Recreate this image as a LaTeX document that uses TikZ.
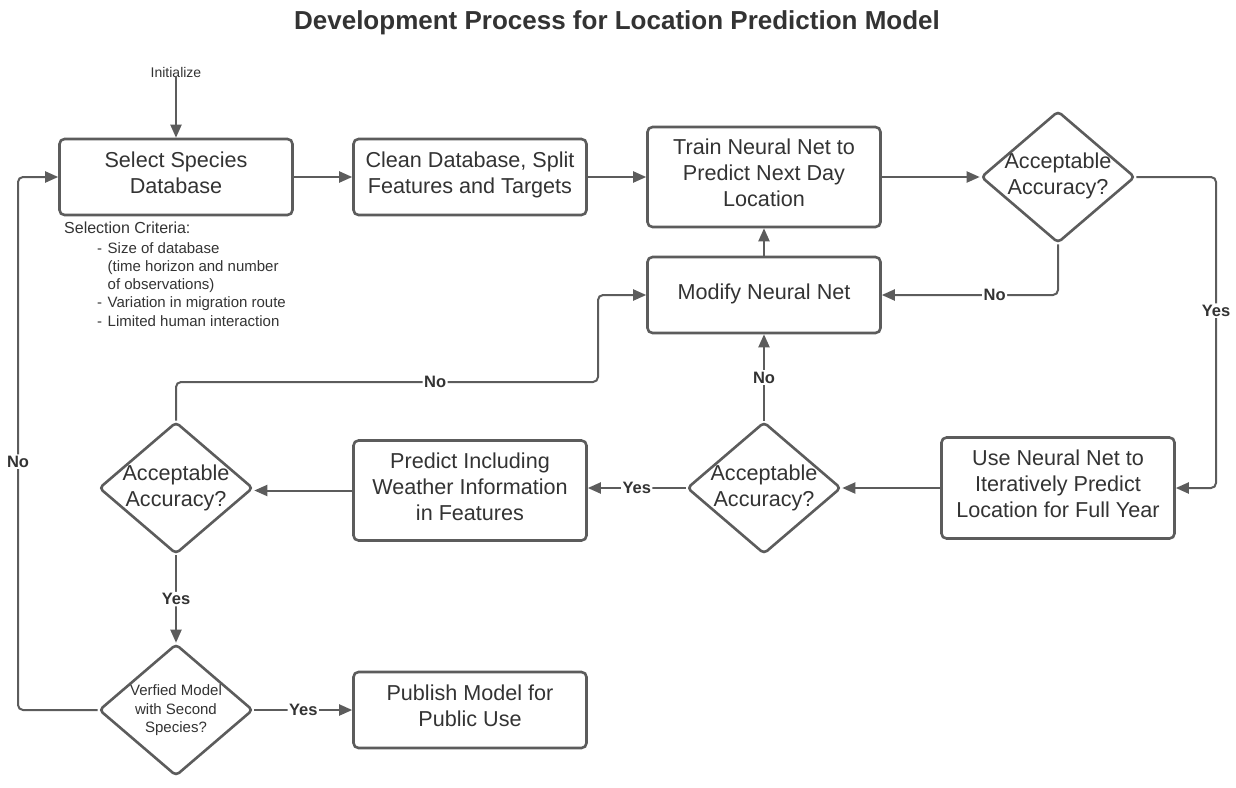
\documentclass[tikz,border=0pt]{standalone}
\usepackage{fontspec}
\setmainfont{Liberation Sans}
\usetikzlibrary{shapes.geometric,arrows.meta}
\definecolor{ln}{HTML}{5C5C5C}
\definecolor{tx}{HTML}{333333}
\begin{document}
\begin{tikzpicture}[x=1pt,y=-1pt,
 box/.style={draw=ln, line width=2.6pt, rounded corners=5pt, minimum width=233pt, align=center, text=tx, font=\fontsize{21.6}{26}\selectfont, fill=white, inner sep=0pt, text depth=8.5pt},
 dia/.style={draw=ln, line width=2.6pt, diamond, rounded corners=4pt, minimum width=154pt, minimum height=132pt, inner sep=0pt, fill=white},
 dtext/.style={text=tx, font=\fontsize{21.6}{26}\selectfont, align=center, inner sep=0pt},
 conn/.style={draw=ln, line width=2pt, -{Triangle[length=13pt,width=11pt]}, rounded corners=5pt},
 lab/.style={fill=white, text=tx, font=\bfseries\fontsize{16.5}{19}\selectfont, inner sep=1.5pt},
 small/.style={text=tx, inner sep=0pt}
]
\useasboundingbox (0,0) rectangle (1236,787);

\node[text=tx, font=\bfseries\fontsize{26}{30}\selectfont] (title) at (617,23) {Development Process for Location Prediction Model};

\node[small, font=\fontsize{14}{17}\selectfont] (init) at (176,72) {Initialize};

\node[box, minimum height=76pt] (sel) at (176,177) {Select Species\\Database};
\node[box, minimum height=76pt] (clean) at (470,177) {Clean Database, Split\\Features and Targets};
\node[box, minimum height=100pt] (train) at (764,177) {Train Neural Net to\\Predict Next Day\\Location};
\node[dia] (d1) at (1058,177) {};
\node[dtext] (d1t) at (1058,176) {Acceptable\\Accuracy?};
\node[box, minimum height=76pt, text depth=6.5pt] (mod) at (764,295) {Modify Neural Net};
\node[box, minimum height=101pt] (use) at (1058,488) {Use Neural Net to\\Iteratively Predict\\Location for Full Year};
\node[dia] (d2) at (764,488) {};
\node[dtext] (d2t) at (764,487.5) {Acceptable\\Accuracy?};
\node[box, minimum height=100pt] (pred) at (470,490.5) {Predict Including\\Weather Information\\in Features};
\node[dia] (d3) at (176,488) {};
\node[dtext] (d3t) at (176,487.5) {Acceptable\\Accuracy?};
\node[dia] (d4) at (176,710) {};
\node[dtext, font=\fontsize{15}{18.5}\selectfont] (d4t) at (176,710.5) {Verfied Model\\with Second\\Species?};
\node[box, minimum height=76pt] (pub) at (470,710) {Publish Model for\\Public Use};

\node[small, font=\fontsize{16}{19}\selectfont, anchor=west] (crit) at (64,228) {Selection Criteria:};
\node[small, font=\fontsize{15}{18.3}\selectfont, anchor=north west] (list) at (97,240) {%
\begin{tabular}{@{}l@{\hspace{5.5pt}}l@{}}
- & Size of database\\
 & (time horizon and number\\
 & of observations)\\
- & Variation in migration route\\
- & Limited human interaction
\end{tabular}};

\coordinate (r1) at (1216,177);
\coordinate (c1) at (598,382);
\coordinate (l1) at (18,710);

\draw[conn] (init.south) -- (sel.north);
\draw[conn] (sel.east) -- (clean.west);
\draw[conn] (clean.east) -- (train.west);
\draw[conn] (train.east) -- (d1.west);
\draw[conn] (mod.north) -- (train.south);
\draw[conn] (d1.south) |- node[lab, pos=0.68]{No} (mod.east);
\draw[conn] (d1.east) -- (r1) |- node[lab, pos=0.215]{Yes} (use.east);
\draw[conn] (use.west) -- (d2.east);
\draw[conn] (d2.north) -- node[lab]{No} (mod.south);
\draw[conn] (d2.west) -- node[lab]{Yes} (pred.east |- d2.west);
\draw[conn] (pred.west) -- (d3.east |- pred.west);
\draw[conn] (d3.north) |- node[lab, pos=0.807]{No} (c1) |- (mod.west);
\draw[conn] (d3.south) -- node[lab]{Yes} (d4.north);
\draw[conn] (d4.east) -- node[lab]{Yes} (pub.west);
\draw[conn] (d4.west) -- (l1) |- node[lab, pos=0.233]{No} (sel.west);
\end{tikzpicture}
\end{document}
